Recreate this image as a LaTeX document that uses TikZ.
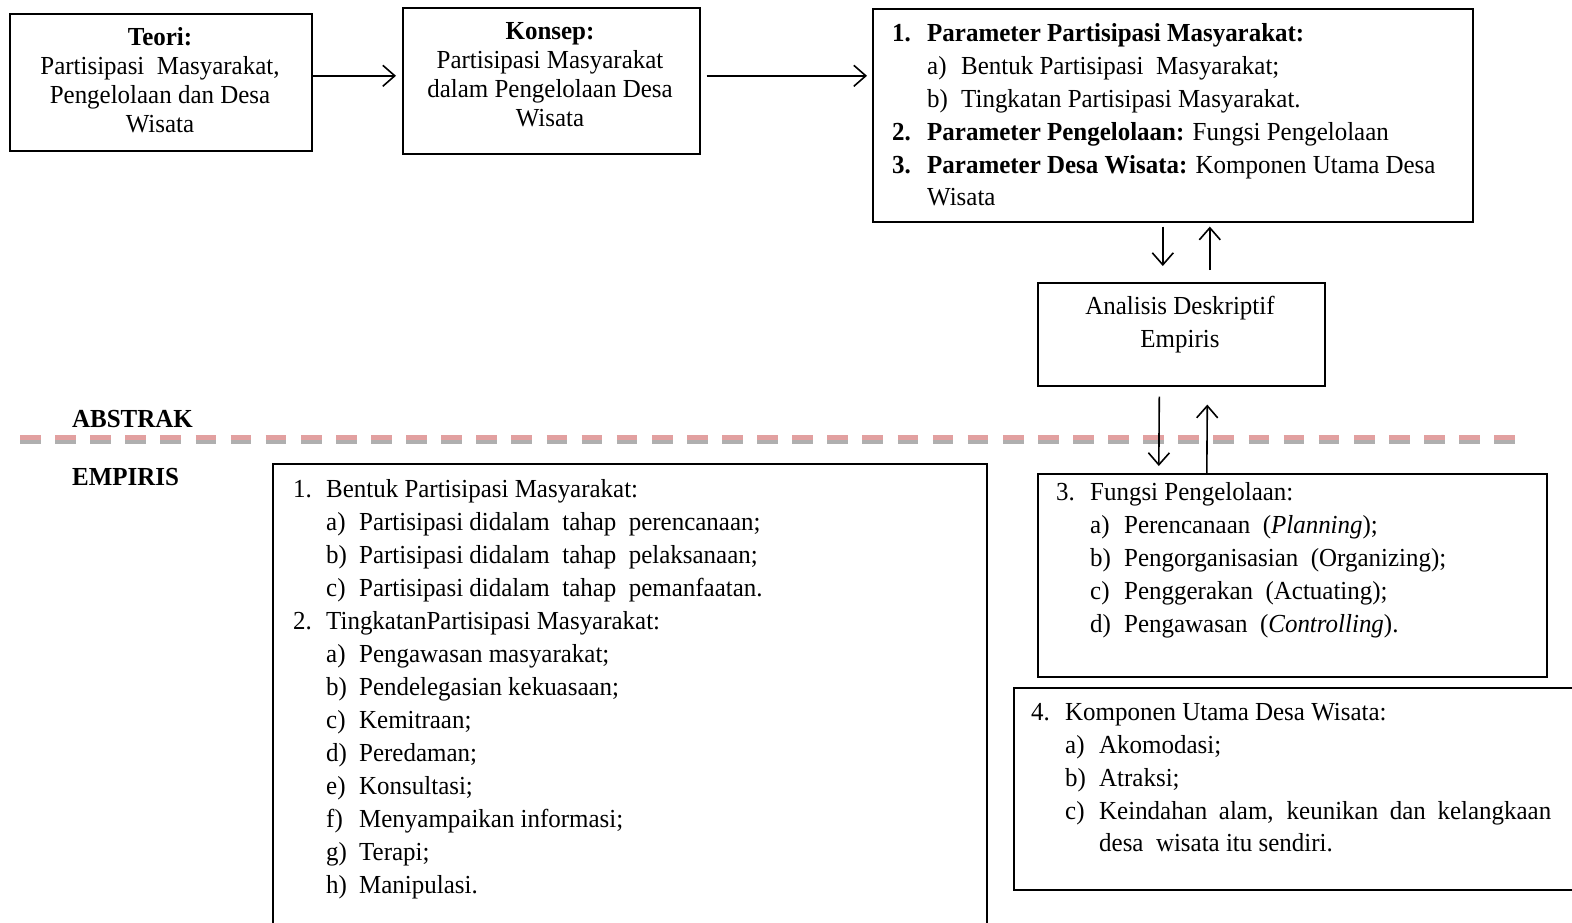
\documentclass[tikz,border=0pt]{standalone}
\usepackage{fontspec}
\setmainfont[FakeStretch=0.96]{Liberation Serif}
\usetikzlibrary{arrows.meta,calc}
\begin{document}
\begin{tikzpicture}[x=1pt,y=-1pt,
  box/.style={draw=black, line width=1.6pt, inner sep=0pt, anchor=north west},
  ln/.style={anchor=base west, inner sep=0pt, font=\fontsize{26}{33}\selectfont},
  cn/.style={anchor=base, inner sep=0pt, font=\fontsize{26}{33}\selectfont},
  arr/.style={line width=1.6pt, -{Straight Barb[length=12pt,width=21pt,line width=1.6pt]}},
  sep/.style={line width=5pt, dash pattern=on 20.7pt off 14.4pt}
]
\useasboundingbox (0,0) rectangle (1572,922);
% boxes
\node[box, minimum width=302pt, minimum height=137pt] (teori) at (9,13) {};
\node[box, minimum width=297pt, minimum height=146pt] (konsep) at (402,7) {};
\node[box, minimum width=600pt, minimum height=213pt] (param) at (872,8) {};
\node[box, minimum width=287pt, minimum height=103pt] (anal) at (1037,282) {};
\node[box, minimum width=714pt, minimum height=480pt] (mid) at (272,463) {};
\node[box, minimum width=509pt, minimum height=203pt] (fungsi) at (1037,473) {};
\node[box, minimum width=600pt, minimum height=202pt] (komp) at (1013,687) {};
% Teori
\node[cn] (t0) at (160,45) {\bfseries Teori:};
\node[cn] (t1) at (160,74) {Partisipasi\ \ Masyarakat,};
\node[cn] (t2) at (160,103) {Pengelolaan dan Desa};
\node[cn] (t3) at (160,132) {Wisata};
% Konsep
\node[cn] (k0) at (550,39) {\bfseries Konsep:};
\node[cn] (k1) at (550,68) {Partisipasi Masyarakat};
\node[cn] (k2) at (550,97) {dalam Pengelolaan Desa};
\node[cn] (k3) at (550,126) {Wisata};
% Parameter
\node[ln] (p1n) at (892,41) {\bfseries 1.};
\node[ln] (p1) at (927,41) {\bfseries Parameter Partisipasi Masyarakat:};
\node[ln] (p1a) at (927,74) {a)};
\node[ln] (p1at) at (961,74) {Bentuk Partisipasi\ \ Masyarakat;};
\node[ln] (p1b) at (927,107) {b)};
\node[ln] (p1bt) at (961,107) {Tingkatan Partisipasi Masyarakat.};
\node[ln] (p2n) at (892,140) {\bfseries 2.};
\node[ln] (p2) at (927,140) {\textbf{Parameter Pengelolaan:} Fungsi Pengelolaan};
\node[ln] (p3n) at (892,173) {\bfseries 3.};
\node[ln] (p3) at (927,173) {\textbf{Parameter Desa Wisata:} Komponen Utama Desa};
\node[ln] (p3b) at (927,205) {Wisata};
% Analisis
\node[cn] (a1) at (1180,314) {Analisis Deskriptif};
\node[cn] (a2) at (1180,347) {Empiris};
% separator
\draw[sep, draw={rgb,255:red,226;green,160;blue,160}] (20,437.5) -- (1515,437.5);
\draw[line width=3.5pt, dash pattern=on 20.7pt off 14.4pt, draw={rgb,255:red,175;green,175;blue,175}] (20,442) -- (1515,442);
\node[ln] (abs) at (72,427) {\bfseries ABSTRAK};
\node[ln] (emp) at (72,485) {\bfseries EMPIRIS};
% middle list
\node[ln] (m1n) at (293,497) {1.};
\node[ln] (m1) at (326,497) {Bentuk Partisipasi Masyarakat:};
\node[ln] (m1a) at (326,530) {a)};
\node[ln] (m1at) at (359,530) {Partisipasi didalam\ \ tahap\ \ perencanaan;};
\node[ln] (m1b) at (326,563) {b)};
\node[ln] (m1bt) at (359,563) {Partisipasi didalam\ \ tahap\ \ pelaksanaan;};
\node[ln] (m1c) at (326,596) {c)};
\node[ln] (m1ct) at (359,596) {Partisipasi didalam\ \ tahap\ \ pemanfaatan.};
\node[ln] (m2n) at (293,629) {2.};
\node[ln] (m2) at (326,629) {TingkatanPartisipasi Masyarakat:};
\node[ln] (m2a) at (326,662) {a)};
\node[ln] (m2at) at (359,662) {Pengawasan masyarakat;};
\node[ln] (m2b) at (326,695) {b)};
\node[ln] (m2bt) at (359,695) {Pendelegasian kekuasaan;};
\node[ln] (m2c) at (326,728) {c)};
\node[ln] (m2ct) at (359,728) {Kemitraan;};
\node[ln] (m2d) at (326,761) {d)};
\node[ln] (m2dt) at (359,761) {Peredaman;};
\node[ln] (m2e) at (326,794) {e)};
\node[ln] (m2et) at (359,794) {Konsultasi;};
\node[ln] (m2f) at (326,827) {f)};
\node[ln] (m2ft) at (359,827) {Menyampaikan informasi;};
\node[ln] (m2g) at (326,860) {g)};
\node[ln] (m2gt) at (359,860) {Terapi;};
\node[ln] (m2h) at (326,893) {h)};
\node[ln] (m2ht) at (359,893) {Manipulasi.};
% fungsi
\node[ln] (f3n) at (1056,500) {3.};
\node[ln] (f3) at (1090,500) {Fungsi Pengelolaan:};
\node[ln] (fa) at (1090,533) {a)};
\node[ln] (fat) at (1124,533) {Perencanaan\ \ (\textit{Planning});};
\node[ln] (fb) at (1090,566) {b)};
\node[ln] (fbt) at (1124,566) {Pengorganisasian\ \ (Organizing);};
\node[ln] (fc) at (1090,599) {c)};
\node[ln] (fct) at (1124,599) {Penggerakan\ \ (Actuating);};
\node[ln] (fd) at (1090,632) {d)};
\node[ln] (fdt) at (1124,632) {Pengawasan\ \ (\textit{Controlling}).};
% komponen
\node[ln] (c4n) at (1031,720) {4.};
\node[ln] (c4) at (1065,720) {Komponen Utama Desa Wisata:};
\node[ln] (ca) at (1065,753) {a)};
\node[ln] (cat) at (1099,753) {Akomodasi;};
\node[ln] (cb) at (1065,786) {b)};
\node[ln] (cbt) at (1099,786) {Atraksi;};
\node[ln] (cc) at (1065,819) {c)};
\node[ln] (cct) at (1099,819) {\makebox[452pt][s]{Keindahan alam, keunikan dan kelangkaan}};
\node[ln] (cct2) at (1099,851) {desa\ \ wisata itu sendiri.};
% connectors
\draw[arr] ([yshift=6.5pt]teori.east) -- ([xshift=-6pt,yshift=5pt]konsep.west);
\draw[arr] ([xshift=6pt,yshift=5pt]konsep.east) -- ([xshift=-5pt,yshift=39.5pt]param.west);
\draw[arr] ([xshift=-10pt,yshift=-4pt]param.south) -- ([xshift=-18.5pt,yshift=16pt]anal.north);
\draw[arr] ([xshift=28.5pt,yshift=12pt]anal.north) -- ([xshift=37pt,yshift=-4pt]param.south);
\draw[arr] ([xshift=-22pt,yshift=-10pt]anal.south) -- ([xshift=-133.5pt,yshift=7pt]fungsi.north);
\draw[arr] ([xshift=-85.5pt]fungsi.north) -- ([xshift=26pt,yshift=-18pt]anal.south);
\end{tikzpicture}
\end{document}
